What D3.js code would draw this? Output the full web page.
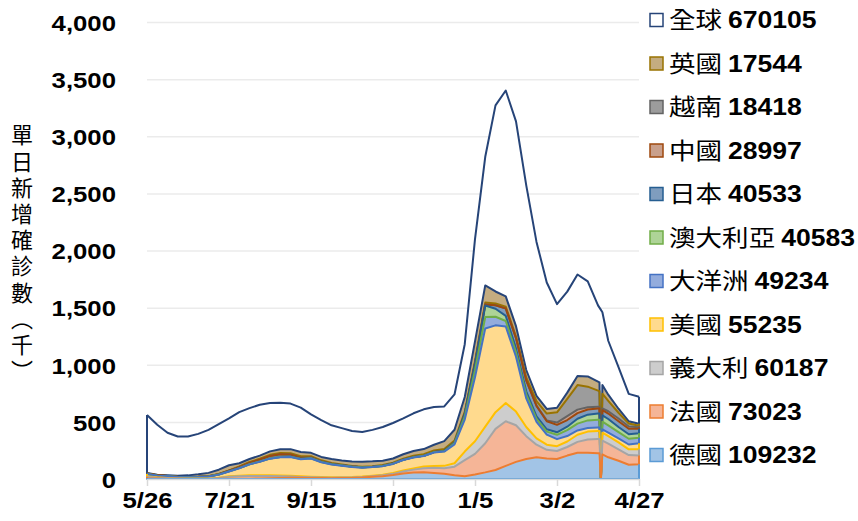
<!DOCTYPE html>
<html>
<head>
<meta charset="utf-8">
<script src="https://cdn.jsdelivr.net/npm/d3@7"></script>
<style>
    body { margin: 0; background: #fff; }
    svg { display: block; }
</style>
</head>
<body>
<div id="chart"></div>
<script>
// dates of the readings (weekly, plus the days around the 4/1 glitch)
const dates = [
    '2021-05-26','2021-06-02','2021-06-09','2021-06-16','2021-06-23','2021-06-30',
    '2021-07-07','2021-07-14','2021-07-21','2021-07-28','2021-08-04','2021-08-11','2021-08-18','2021-08-25',
    '2021-09-01','2021-09-08','2021-09-15','2021-09-22','2021-09-29',
    '2021-10-06','2021-10-13','2021-10-20','2021-10-27',
    '2021-11-03','2021-11-10','2021-11-17','2021-11-24',
    '2021-12-01','2021-12-08','2021-12-15','2021-12-22','2021-12-29',
    '2022-01-05','2022-01-12','2022-01-19','2022-01-26',
    '2022-02-02','2022-02-09','2022-02-16','2022-02-23',
    '2022-03-02','2022-03-09','2022-03-16','2022-03-23','2022-03-30','2022-03-31','2022-04-01','2022-04-02',
    '2022-04-06','2022-04-13','2022-04-20','2022-04-27'
];

// daily new cases, thousands
const germany = [
    7, 4, 2.5, 1.2, 0.8, 0.6,
    0.7, 1.2, 1.7, 2.2, 2.8, 4, 6.5, 8.5,
    10, 10, 9, 8, 7.5,
    8, 9.5, 13, 19,
    25, 35, 48, 57,
    60, 53, 45, 33, 25,
    40, 58, 79, 115,
    150, 175, 190, 180,
    175, 205, 230, 230, 225, 225, 0, 215,
    190, 160, 125, 130
];
const france = [
    12, 8, 5, 3, 2, 2.5,
    3.5, 8, 18, 22, 24, 23, 20, 15,
    12, 8, 6, 5, 4.5,
    4.5, 4.5, 5, 6,
    7.5, 10, 17, 25,
    35, 45, 50, 75, 140,
    180, 255, 360, 390,
    320, 200, 110, 75,
    70, 75, 95, 115, 125, 125, 0, 120,
    120, 100, 85, 75
];
const italy = [
    3.5, 2.5, 1.8, 1.2, 0.9, 0.8,
    1, 2, 3.5, 5, 6, 6.5, 6.5, 6.5,
    6, 5, 4.5, 3.8, 3.3,
    3, 2.8, 3, 4,
    5, 7, 9, 11,
    14, 16, 20, 30, 75,
    110, 145, 146, 160,
    120, 80, 55, 45,
    42, 48, 62, 70, 70, 70, 0, 70,
    65, 60, 50, 55
];
const usa = [
    22, 15, 14, 12, 12, 13,
    16, 27, 43, 65, 95, 118, 145, 160,
    165, 150, 160, 130, 112,
    100, 88, 78, 75,
    75, 80, 92, 96,
    92, 118, 125, 165, 280,
    560, 860, 760, 670,
    480, 250, 145, 88,
    62, 48, 38, 32, 30, 30, 0, 30,
    30, 35, 42, 52
];
const oceania = [
    0.05, 0.05, 0.05, 0.05, 0.1, 0.2,
    0.3, 0.5, 0.8, 1, 1.2, 1.3, 1.5, 1.8,
    2, 2.2, 2.2, 2.2, 2.4,
    2.5, 2.3, 2.2, 2,
    1.8, 1.6, 1.6, 1.5,
    1.5, 1.8, 3.2, 8.5, 26,
    62, 100, 75, 48,
    38, 33, 27, 27,
    38, 52, 60, 66, 68, 68, 0, 67,
    65, 55, 50, 48
];
const australia = [
    0.01, 0.01, 0.01, 0.02, 0.02, 0.03,
    0.03, 0.1, 0.15, 0.2, 0.3, 0.4, 0.7, 1,
    1.3, 1.6, 1.7, 1.8, 2,
    2.2, 2, 1.9, 1.7,
    1.5, 1.3, 1.3, 1.2,
    1.2, 1.5, 3, 8, 25,
    60, 100, 70, 45,
    35, 30, 22, 20,
    22, 30, 42, 50, 55, 55, 0, 55,
    55, 45, 40, 40
];
const japan = [
    4.5, 3, 2, 1.5, 1.5, 1.7,
    2, 2.7, 4.5, 8, 12, 15, 22, 24,
    18, 10, 5.5, 3.5, 1.8,
    1.1, 0.7, 0.4, 0.3,
    0.25, 0.2, 0.15, 0.1,
    0.12, 0.13, 0.18, 0.25, 0.5,
    2, 10, 30, 65,
    90, 95, 90, 70,
    65, 58, 50, 45, 45, 45, 0, 45,
    48, 50, 48, 40
];
const china = [
    0.02, 0.02, 0.03, 0.03, 0.03, 0.03,
    0.03, 0.05, 0.06, 0.08, 0.1, 0.08, 0.05, 0.04,
    0.04, 0.06, 0.08, 0.05, 0.04,
    0.04, 0.04, 0.05, 0.06,
    0.07, 0.05, 0.04, 0.05,
    0.08, 0.1, 0.1, 0.1, 0.2,
    0.2, 0.3, 0.3, 0.5,
    0.5, 1, 3, 8,
    20, 35, 30, 20, 15, 15, 0, 15,
    20, 25, 20, 12
];
const vietnam = [
    0.2, 0.2, 0.3, 0.3, 0.4, 0.6,
    1, 2, 4, 6.5, 7.5, 8.5, 9.5, 11,
    12, 12, 10, 9, 7,
    5, 3.5, 3.5, 4.5,
    6, 8, 9.5, 11,
    13, 14.5, 15.5, 16, 16,
    16, 16, 16, 15,
    14, 25, 40, 60,
    90, 150, 215, 180, 140, 135, 0, 130,
    90, 50, 25, 15
];
const uk = [
    2.7, 4, 7, 9, 14, 22,
    29, 38, 45, 28, 26, 28, 30, 33,
    35, 37, 30, 30, 34,
    35, 40, 45, 42,
    38, 36, 38, 42,
    45, 50, 70, 95, 130,
    175, 150, 105, 90,
    90, 65, 45, 40,
    40, 55, 80, 90, 80, 78, 0, 75,
    55, 35, 20, 17
];
const world = [
    560, 475, 405, 372, 372, 395,
    430, 480, 530, 585, 620, 650, 665, 668,
    660, 625, 565, 515, 470,
    445, 420, 412, 430,
    455, 490, 530, 575,
    610, 630, 635, 740, 1180,
    2100, 2820, 3270, 3400,
    3130, 2570, 2075, 1720,
    1530, 1640, 1790, 1730, 1520, 1500, 1480, 1460,
    1210, 980, 745, 720
];

// stacking order, bottom to top
const seriesNames = ['德國', '法國', '義大利', '美國', '大洋洲', '澳大利亞', '日本', '中國', '越南', '英國', '全球'];
const legendValues = [109232, 73023, 60187, 55235, 49234, 40583, 40533, 28997, 18418, 17544, 670105];
const seriesData = [germany, france, italy, usa, oceania, australia, japan, china, vietnam, uk, world];

const yTicks = [0, 500, 1000, 1500, 2000, 2500, 3000, 3500, 4000];
const xTicks = ['2021-05-26', '2021-07-21', '2021-09-15', '2021-11-10', '2022-01-05', '2022-03-02', '2022-04-27'];
const yTitle = '單日新增確診數（千）';

const lineColors = ['#5B9BD5', '#ED7D31', '#A5A5A5', '#FFC000', '#4472C4', '#70AD47', '#255E91', '#9E480E', '#636363', '#997300', '#264478'];
const fillColors = ['#A2C4E6', '#F5B597', '#CDCDCD', '#FFDA8E', '#93ACDD', '#AED497', '#7F9DBE', '#C9A08C', '#9C9C9C', '#C4AC80', '#FFFFFF'];

const latin = '"Liberation Sans", Arial, sans-serif';
const cjk = '"Noto Sans CJK TC", "Noto Sans CJK SC", sans-serif';
const stretch = 1.12;

const width = 858, height = 521;
const plot = { left: 147, right: 639, top: 22, bottom: 479 };

const parse = d3.timeParse('%Y-%m-%d');

// rows for d3.stack; 全球 is stacked as the remainder above the countries
const rows = dates.map((d, i) => {
    const row = { date: parse(d) };
    let sum = 0;
    seriesNames.forEach((name, k) => {
        if (k < seriesNames.length - 1) {
            row[name] = seriesData[k][i];
            sum += seriesData[k][i];
        }
    });
    row['全球'] = Math.max(0, world[i] - sum);
    return row;
});

const svg = d3.select('#chart').append('svg')
    .attr('width', width)
    .attr('height', height)
    .style('background', '#fff');

const x = d3.scaleTime()
    .domain([parse(dates[0]), parse(dates[dates.length - 1])])
    .range([plot.left, plot.right]);

const y = d3.scaleLinear()
    .domain([0, 4000])
    .range([plot.bottom, plot.top]);

// gridlines
svg.append('g')
    .attr('transform', `translate(${plot.left},0)`)
    .call(d3.axisLeft(y).tickValues(yTicks.slice(1)).tickSize(-(plot.right - plot.left)).tickFormat(''))
    .call(g => g.select('.domain').remove())
    .selectAll('line')
    .attr('stroke', '#EBEBEB')
    .attr('stroke-width', 1.5);

const stacked = d3.stack().keys(seriesNames)(rows);

const area = d3.area()
    .x(d => x(d.data.date))
    .y0(d => y(d[0]))
    .y1(d => y(d[1]));

svg.append('g')
    .selectAll('path')
    .data(stacked)
    .enter()
    .append('path')
    .attr('d', area)
    .attr('fill', (d, i) => fillColors[i]);

// outline of each band: left side, bottom edge, right side (top series first)
const edge = d3.line();
function edgePoints(s) {
    const first = s[0], last = s[s.length - 1];
    const pts = [[x(first.data.date), y(first[1])]];
    s.forEach(d => pts.push([x(d.data.date), y(d[0])]));
    pts.push([x(last.data.date), y(last[1])]);
    return pts;
}

const lineGroup = svg.append('g')
    .attr('fill', 'none')
    .attr('stroke-width', 2)
    .attr('stroke-linejoin', 'round');

stacked.slice().reverse().forEach(s => {
    lineGroup.append('path')
        .attr('d', edge(edgePoints(s)))
        .attr('stroke', lineColors[s.index]);
});

// 全球 top line
const globalSeries = stacked[stacked.length - 1];
lineGroup.append('path')
    .attr('d', d3.line().x(d => x(d.data.date)).y(d => y(d[1]))(globalSeries))
    .attr('stroke', lineColors[lineColors.length - 1]);

// x axis
svg.append('g')
    .attr('transform', `translate(0,${plot.bottom})`)
    .call(d3.axisBottom(x)
        .tickValues(xTicks.map(parse))
        .tickFormat(d3.timeFormat('%-m/%-d'))
        .tickSize(7)
        .tickSizeOuter(0)
        .tickPadding(6))
    .call(g => g.select('.domain').attr('stroke', '#D9D9D9').attr('stroke-width', 1.5))
    .call(g => g.selectAll('line').attr('stroke', '#D9D9D9').attr('stroke-width', 1.5))
    .call(g => g.selectAll('text')
        .attr('fill', '#000')
        .style('font-family', latin)
        .style('font-weight', 'bold')
        .style('font-size', '23px')
        .attr('transform', `scale(${stretch},1)`));

// y axis labels
svg.append('g')
    .attr('transform', 'translate(116,0)')
    .call(d3.axisLeft(y).tickValues(yTicks).tickFormat(d3.format(',')).tickSize(0).tickPadding(0))
    .call(g => g.select('.domain').remove())
    .call(g => g.selectAll('text')
        .attr('fill', '#000')
        .attr('dy', '0.36em')
        .style('font-family', latin)
        .style('font-weight', 'bold')
        .style('font-size', '23px')
        .attr('transform', `scale(${stretch},1)`));

// y title, written vertically
svg.append('text')
    .attr('x', 22)
    .attr('y', 124)
    .style('writing-mode', 'vertical-rl')
    .style('font-family', cjk)
    .style('font-size', '22px')
    .style('letter-spacing', '4.2px')
    .text(yTitle);

// legend, top series first
const legendOrder = d3.range(seriesNames.length).reverse();
const legend = svg.append('g')
    .selectAll('g')
    .data(legendOrder)
    .enter()
    .append('g')
    .attr('transform', (d, i) => `translate(0,${20 + i * 43.5})`);

legend.append('rect')
    .attr('x', 650)
    .attr('y', -6.5)
    .attr('width', 13)
    .attr('height', 13)
    .attr('fill', k => fillColors[k])
    .attr('stroke', k => lineColors[k])
    .attr('stroke-width', 1.5);

const legendText = legend.append('text')
    .attr('transform', `translate(669,0) scale(1.14,1)`)
    .attr('dy', '0.36em')
    .style('font-size', '23.3px');

legendText.append('tspan')
    .style('font-family', cjk)
    .text(k => seriesNames[k] + ' ');

legendText.append('tspan')
    .style('font-family', latin)
    .style('font-weight', 'bold')
    .text(k => legendValues[k]);
</script>
</body>
</html>
